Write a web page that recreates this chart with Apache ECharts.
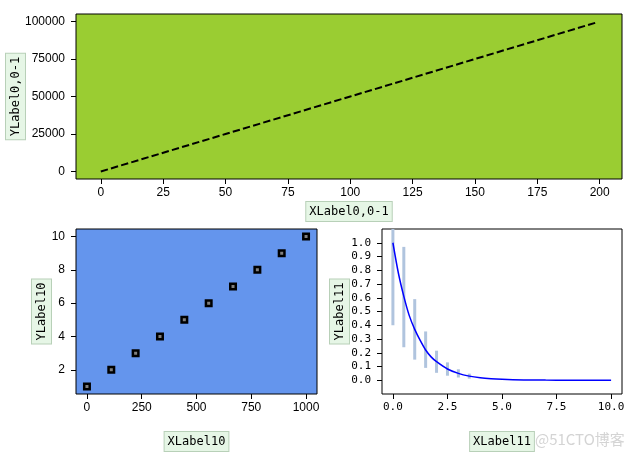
<!DOCTYPE html>
<html>
<head>
<meta charset="utf-8">
<script src="https://cdn.jsdelivr.net/npm/echarts@6/dist/echarts.min.js"></script>
<style>
	html,body{margin:0;padding:0;background:#fff;}
	#chart{width:640px;height:459px;}
</style>
</head>
<body>
<div id="chart"></div>
<script>
	// top panel: dashed straight line
	var lineX = [0, 50, 100, 150, 199];
	var lineY = [0, 25000, 50000, 75000, 99500];
	var topXTicks = [0, 25, 50, 75, 100, 125, 150, 175, 200];
	var topYTicks = [0, 25000, 50000, 75000, 100000];

	// bottom left: square markers
	var sqX = [0, 111.1, 222.2, 333.3, 444.4, 555.6, 666.7, 777.8, 888.9, 1000];
	var sqY = [1, 2, 3, 4, 5, 6, 7, 8, 9, 10];
	var blXTicks = [0, 250, 500, 750, 1000];
	var blYTicks = [2, 4, 6, 8, 10];

	// bottom right: decay curve with error bars
	var curveX = [0, 0.25, 0.5, 0.75, 1, 1.25, 1.5, 1.75, 2, 2.5, 3, 3.5, 4, 4.5, 5, 6, 7, 8, 9, 10];
	var curveY = [1.0, 0.78, 0.61, 0.47, 0.37, 0.29, 0.22, 0.17, 0.135, 0.082, 0.05, 0.03, 0.018, 0.011, 0.007, 0.0025, 0.001, 0.0003, 0.0001, 0.0];
	var errX = [0, 0.5, 1, 1.5, 2, 2.5, 3, 3.5];
	var errLow = [0.40, 0.24, 0.15, 0.09, 0.054, 0.033, 0.02, 0.012];
	var errHigh = [1.6, 0.97, 0.59, 0.355, 0.215, 0.13, 0.08, 0.048];
	var brXTicks = [0, 2.5, 5, 7.5, 10];
	var brYTicks = [0, 0.1, 0.2, 0.3, 0.4, 0.5, 0.6, 0.7, 0.8, 0.9, 1.0];

	var chart = echarts.init(document.getElementById('chart'));

	var nameBox = {
		fontFamily: 'DejaVu Sans Mono',
		fontSize: 12,
		color: '#000',
		backgroundColor: '#e6f6e6',
		borderColor: '#b8d0b8',
		borderWidth: 1,
		padding: [4, 3, 3, 3]
	};
	var tickFont = {fontFamily: 'Liberation Sans', fontSize: 12, color: '#000'};
	var monoFont = {fontFamily: 'DejaVu Sans Mono', fontSize: 11, color: '#000'};
	var plain = function(v){ return String(v); };
	var oneDec = function(v){ return v.toFixed(1); };

	function valAxis(idx, min, max, ticks, name, gap, isY, font, fmt){
		var a = {
			type: 'value',
			gridIndex: idx,
			min: min,
			max: max,
			name: name,
			nameLocation: 'middle',
			nameGap: gap,
			nameMoveOverlap: false,
			nameTextStyle: nameBox,
			splitLine: {show: false},
			axisLine: {show: false, onZero: false},
			axisTick: {show: true, length: 5, customValues: ticks, lineStyle: {color: '#000', width: 1}},
			axisLabel: Object.assign({customValues: ticks, margin: isY ? 11 : 8, formatter: fmt}, font)
		};
		if(isY){ a.nameRotate = 90; }
		return a;
	}

	function pairs(xs, ys){
		var out = [];
		for(var i = 0; i < xs.length; i++){ out.push([xs[i], ys[i]]); }
		return out;
	}

	var errData = [];
	for(var i = 0; i < errX.length; i++){ errData.push([errX[i], errLow[i], errHigh[i]]); }

	var gridBase = {show: true, borderColor: '#000', borderWidth: 1, containLabel: false, outerBoundsMode: 'none'};

	var option = {
		animation: false,
		backgroundColor: '#fff',
		grid: [
			Object.assign({left: 76, top: 14, width: 546, height: 165, backgroundColor: '#9ACD32'}, gridBase),
			Object.assign({left: 76, top: 229, width: 241, height: 165, backgroundColor: '#6495ED'}, gridBase),
			Object.assign({left: 382, top: 229, width: 240, height: 165, backgroundColor: '#fff'}, gridBase)
		],
		xAxis: [
			valAxis(0, -9.95, 208.95, topXTicks, 'XLabel0,0-1', 23, false, tickFont, plain),
			valAxis(1, -50, 1050, blXTicks, 'XLabel10', 38, false, tickFont, plain),
			valAxis(2, -0.5, 10.5, brXTicks, 'XLabel11', 38, false, monoFont, oneDec)
		],
		yAxis: [
			valAxis(0, -5000, 105000, topYTicks, 'YLabel0,0-1', 51, true, tickFont, plain),
			valAxis(1, 0.55, 10.45, blYTicks, 'YLabel10', 25, true, tickFont, plain),
			valAxis(2, -0.1, 1.1, brYTicks, 'YLabel11', 33, true, monoFont, oneDec)
		],
		series: [
			{
				type: 'line',
				xAxisIndex: 0, yAxisIndex: 0,
				data: pairs(lineX, lineY),
				showSymbol: false,
				lineStyle: {color: '#000', width: 2, type: [7.4, 3.2]}
			},
			{
				type: 'scatter',
				xAxisIndex: 1, yAxisIndex: 1,
				data: pairs(sqX, sqY),
				symbol: 'rect',
				symbolSize: 5.5,
				itemStyle: {color: '#808080', borderColor: '#000', borderWidth: 2.5, opacity: 1}
			},
			{
				type: 'custom',
				xAxisIndex: 2, yAxisIndex: 2,
				clip: true,
				data: errData,
				renderItem: function(params, api){
					var lo = api.coord([api.value(0), api.value(1)]);
					var hi = api.coord([api.value(0), api.value(2)]);
					return {
						type: 'line',
						shape: {x1: lo[0], y1: lo[1], x2: hi[0], y2: hi[1]},
						style: {stroke: '#B0C4DE', lineWidth: 3}
					};
				}
			},
			{
				type: 'line',
				xAxisIndex: 2, yAxisIndex: 2,
				data: pairs(curveX, curveY),
				smooth: 0.3,
				showSymbol: false,
				lineStyle: {color: '#0000FF', width: 1.5}
			}
		],
		graphic: [
			{
				type: 'text',
				left: 535,
				top: 432,
				style: {text: '@51CTO博客', fontFamily: 'Noto Sans CJK SC', fontSize: 15, fill: '#d4d4d4'}
			}
		]
	};
	chart.setOption(option);
</script>
</body>
</html>
